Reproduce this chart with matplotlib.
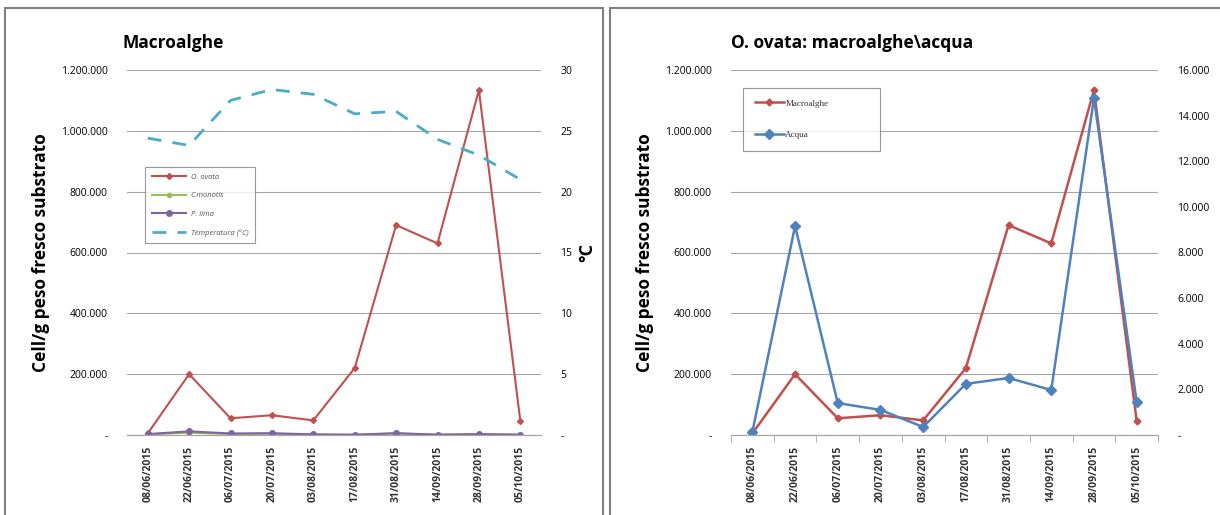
import matplotlib
matplotlib.use("Agg")
import matplotlib.pyplot as plt
from matplotlib.patches import Rectangle
from matplotlib.ticker import FuncFormatter, MultipleLocator

dates = ["08/06/2015", "22/06/2015", "06/07/2015", "20/07/2015", "03/08/2015",
         "17/08/2015", "31/08/2015", "14/09/2015", "28/09/2015", "05/10/2015"]

o_ovata = [5000, 200000, 55000, 65000, 48000, 220000, 690000, 630000, 1134000, 47000]
c_monotis = [2000, 8000, 3000, 4000, 1000, 500, 5000, 1000, 2000, 1000]
p_lima = [3000, 12000, 5000, 6000, 2000, 1000, 6000, 1000, 3000, 1000]
temperatura = [24.4, 23.8, 27.5, 28.4, 28.0, 26.4, 26.6, 24.3, 23.0, 21.0]

acqua = [130, 9160, 1400, 1100, 350, 2240, 2500, 1970, 14770, 1450]

RED = "#C0504D"
GREEN = "#9BBB59"
PURPLE = "#8064A2"
CYAN = "#4BACC6"
BLUE = "#4F81BD"
GRID = "#A6A6A6"

plt.rcParams["font.family"] = ["Open Sans", "DejaVu Sans"]


def it_fmt(v, pos):
    if abs(v) < 1e-9:
        return "-"
    return f"{v:,.0f}".replace(",", ".")


def style_axes(ax, ax2):
    ax.set_xlim(-0.5, len(dates) - 0.5)
    ax.set_xticks(range(len(dates)))
    ax.set_xticklabels(dates, rotation=90, fontsize=7.5, fontweight="bold", color="#333333")
    ax.tick_params(axis="x", length=0, pad=8)
    ax.tick_params(axis="y", length=0, labelsize=7.5, pad=14)
    ax2.tick_params(axis="y", length=0, labelsize=7.5, pad=14)
    ax.set_ylim(0, 1200000)
    ax.yaxis.set_major_locator(MultipleLocator(200000))
    ax.yaxis.set_major_formatter(FuncFormatter(it_fmt))
    ax2.yaxis.set_major_formatter(FuncFormatter(it_fmt))
    ax.grid(axis="y", color=GRID, linewidth=0.8)
    ax.set_axisbelow(True)
    for a in (ax, ax2):
        for s in ("top", "left", "right"):
            a.spines[s].set_visible(False)
        a.spines["bottom"].set_color(GRID)
    ax.set_ylabel("Cell/g peso fresco substrato", fontsize=12.5, fontweight="bold", labelpad=8)


fig = plt.figure(figsize=(12.2, 5.15), dpi=100)

# bordi dei pannelli
fig.patches.append(Rectangle((5 / 1220, -0.02), 598 / 1220, 1 - 8 / 515 + 0.02,
                             transform=fig.transFigure, fill=False, edgecolor="#808080", linewidth=1.5))
fig.patches.append(Rectangle((610 / 1220, -0.02), 620 / 1220, 1 - 8 / 515 + 0.02,
                             transform=fig.transFigure, fill=False, edgecolor="#808080", linewidth=1.5))

# grafico sinistro
ax1 = fig.add_axes([127 / 1220, 1 - 435 / 515, 414 / 1220, 365 / 515])
ax1b = ax1.twinx()
x = range(len(dates))
l1, = ax1.plot(x, o_ovata, color=RED, linewidth=1.5, marker="D", markersize=3, label="O. ovata")
l2, = ax1.plot(x, c_monotis, color=GREEN, linewidth=1.5, marker="o", markersize=3, label="C.monotis")
l3, = ax1.plot(x, p_lima, color=PURPLE, linewidth=1.5, marker="o", markersize=4, label="P. lima")
l4, = ax1b.plot(x, temperatura, color=CYAN, linewidth=2, linestyle=(0, (5, 4)), label="Temperatura (°C)")
ax1b.set_ylim(0, 30)
ax1b.yaxis.set_major_locator(MultipleLocator(5))
style_axes(ax1, ax1b)
ax1b.set_ylabel("°C", fontsize=13, fontweight="bold", labelpad=4)
ax1.set_title("Macroalghe", fontsize=12.5, fontweight="bold", loc="left", x=-0.01, pad=16)
leg = ax1.legend(handles=[l1, l2, l3, l4], loc="upper left", bbox_to_anchor=(0.043, 0.735),
                 frameon=True, fancybox=False, edgecolor="#808080", borderaxespad=0,
                 handlelength=4.5, labelspacing=1.45, borderpad=0.9, handletextpad=0.6,
                 prop={"size": 5.5, "style": "italic"})
leg.get_frame().set_linewidth(0.8)
for t in leg.get_texts():
    t.set_color("#555555")

# grafico destro
ax2 = fig.add_axes([731 / 1220, 1 - 435 / 515, 427 / 1220, 365 / 515])
ax2b = ax2.twinx()
m1, = ax2.plot(x, o_ovata, color=RED, linewidth=1.8, marker="D", markersize=3.5, label="Macroalghe")
m2, = ax2b.plot(x, acqua, color=BLUE, linewidth=1.8, marker="D", markersize=5, label="Acqua")
ax2b.set_ylim(0, 16000)
ax2b.yaxis.set_major_locator(MultipleLocator(2000))
style_axes(ax2, ax2b)
ax2.set_xticks([i + 0.5 for i in range(-1, len(dates))], minor=True)
ax2.tick_params(axis="x", which="minor", length=5, color=GRID)
ax2.set_title("O. ovata: macroalghe\\acqua", fontsize=12.5, fontweight="bold", loc="left", x=0.0, pad=16)
leg2 = ax2.legend(handles=[m1, m2], loc="upper left", bbox_to_anchor=(0.028, 0.66, 0.32, 0.292),
                  mode="expand", frameon=True, fancybox=False, edgecolor="#808080", handlelength=3.2,
                  labelspacing=2.6, borderpad=1.3, borderaxespad=0, handletextpad=0.2,
                  prop={"family": "Liberation Serif", "size": 6.5})
leg2.get_frame().set_linewidth(0.8)
for t in leg2.get_texts():
    t.set_color("#333333")

fig.savefig("out.png", dpi=100)
